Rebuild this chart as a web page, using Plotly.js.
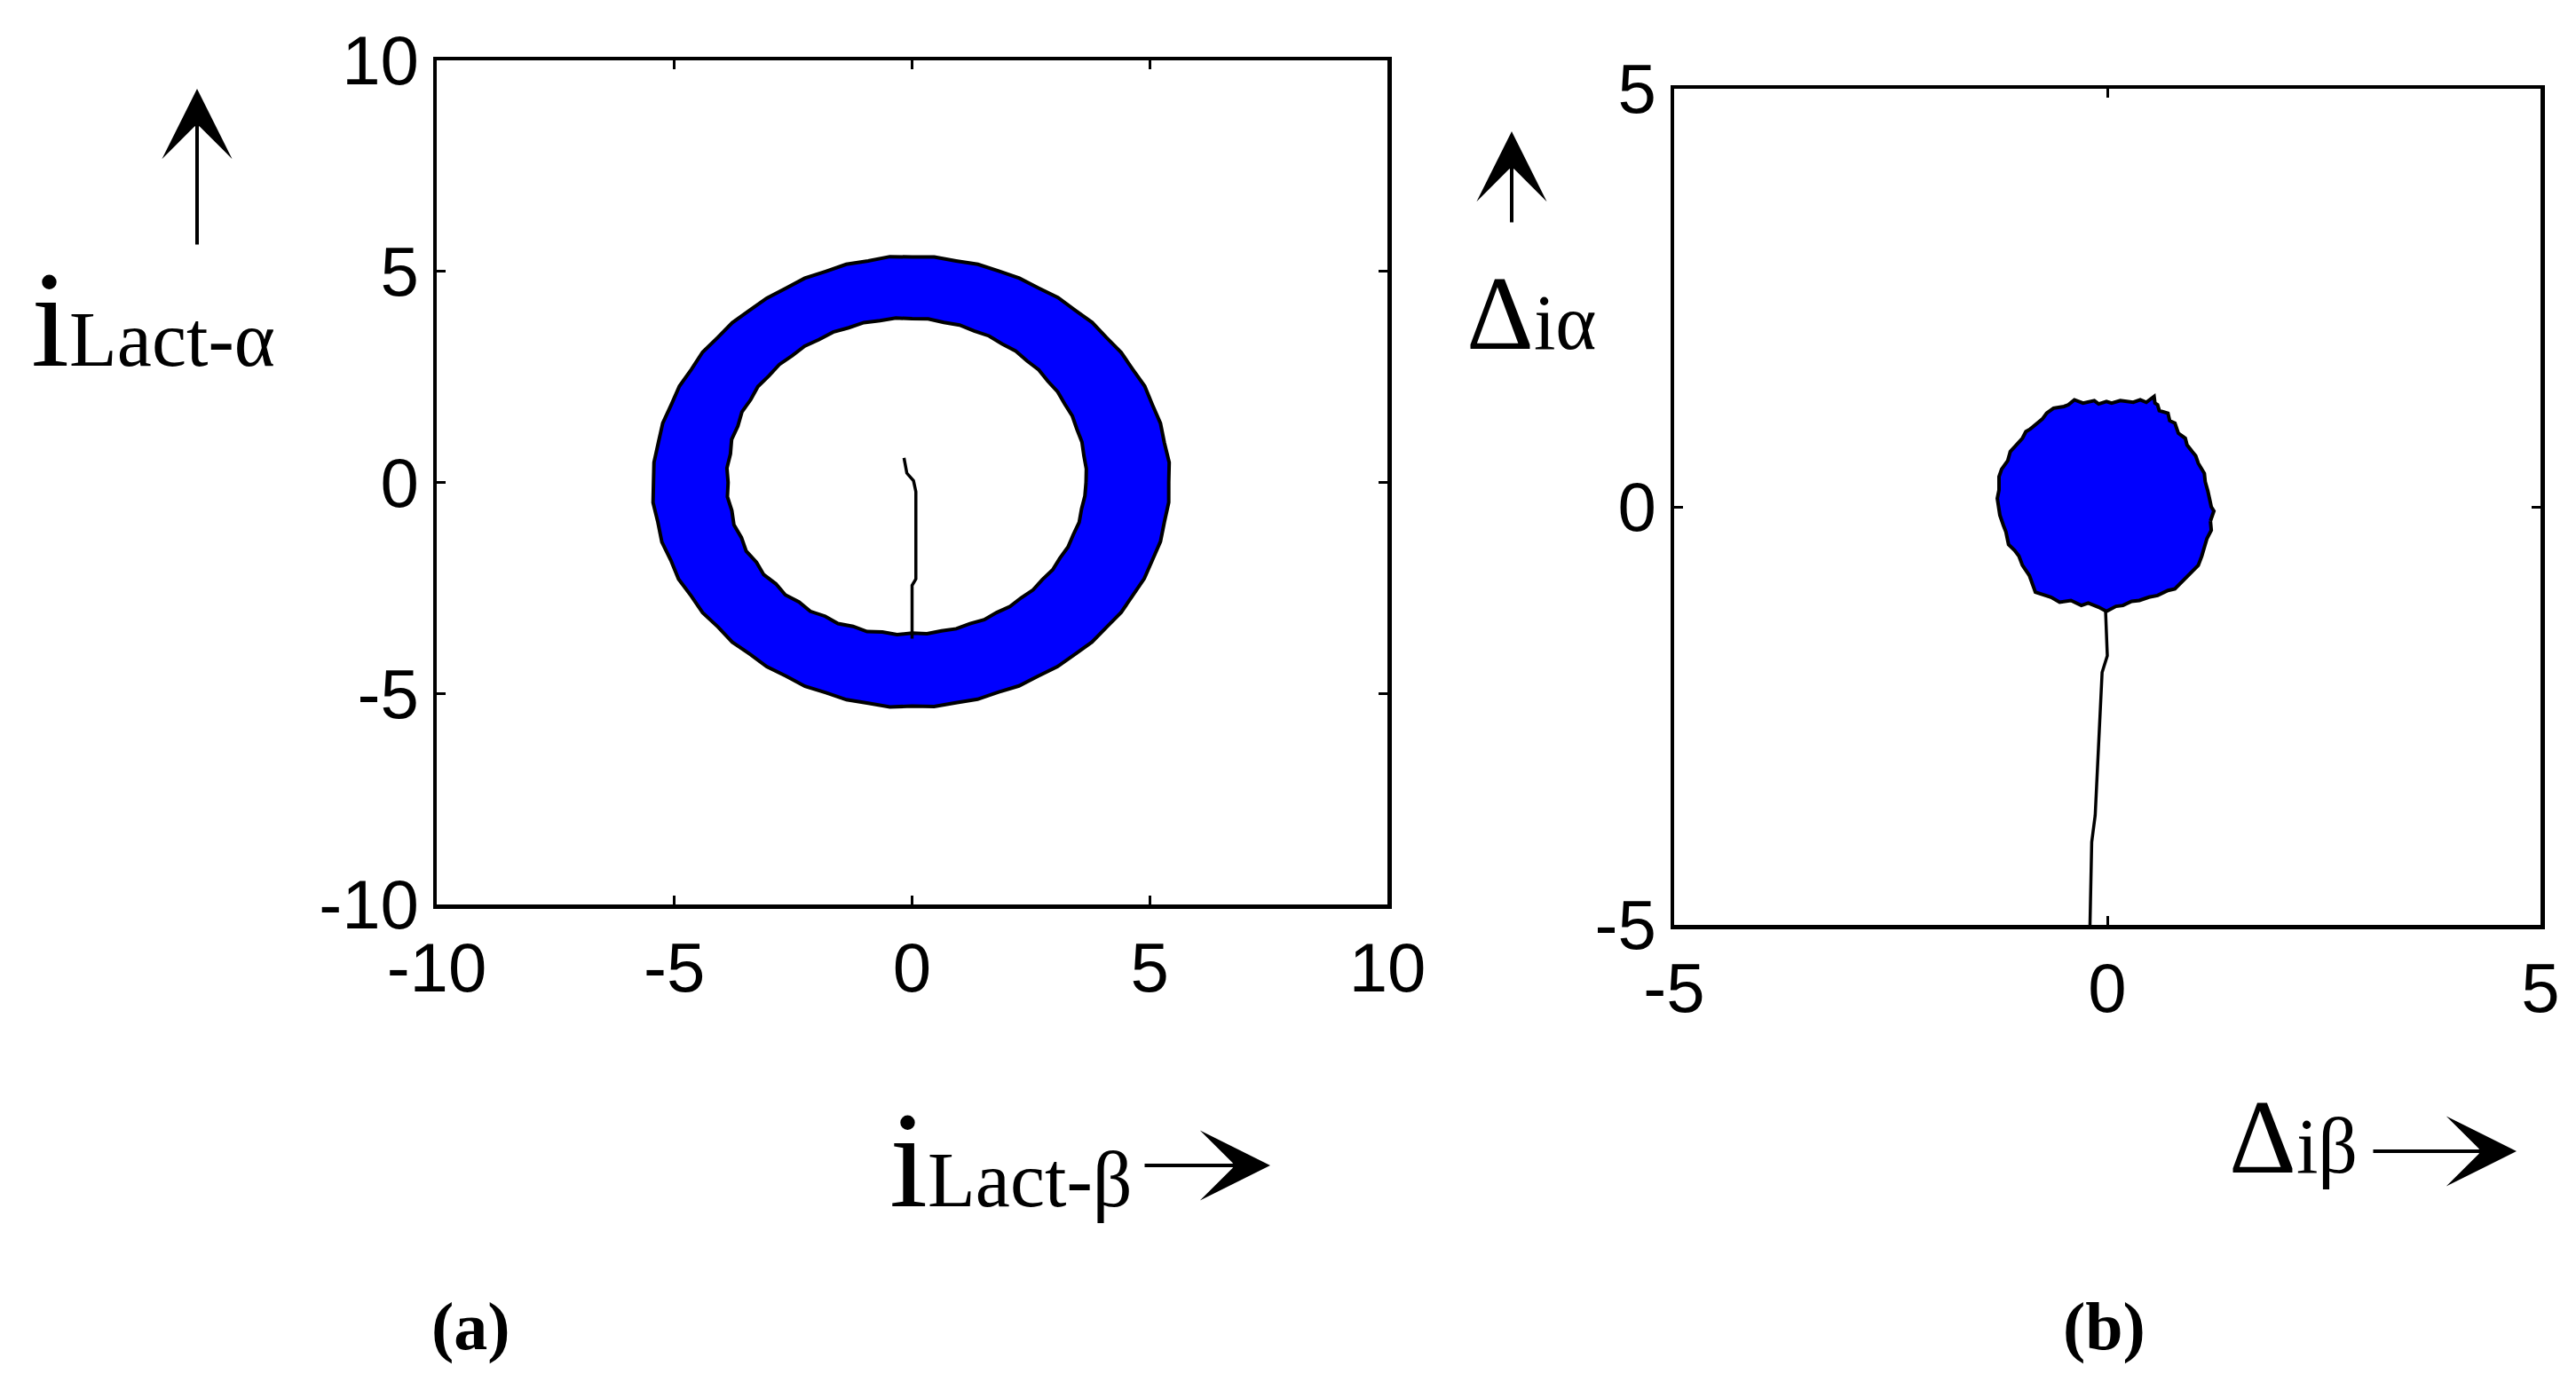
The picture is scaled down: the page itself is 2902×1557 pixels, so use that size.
<!DOCTYPE html>
<html>
<head>
<meta charset="utf-8">
<script src="https://cdn.plot.ly/plotly-3.0.1.min.js"></script>
<style>html,body{margin:0;padding:0;background:#fff;}#chart{width:2902px;height:1557px;}</style>
</head>
<body>
<div id="chart"></div>
<script>
// ---------- data ----------
// (a) ring: boundary radii of the i_Lact trajectory band, by angle (degrees)
const ringAngles = [0,5,10,15,20,25,30,35,40,45,50,55,60,65,70,75,80,85,90,95,100,105,110,115,120,125,130,135,140,145,150,155,160,165,170,175,180,185,190,195,200,205,210,215,220,225,230,235,240,245,250,255,260,265,270,275,280,285,290,295,300,305,310,315,320,325,330,335,340,345,350,355];
const ringOuterR = [5.40,5.43,5.39,5.41,5.38,5.40,5.36,5.37,5.34,5.36,5.33,5.35,5.32,5.34,5.33,5.35,5.33,5.36,5.34,5.37,5.33,5.35,5.32,5.34,5.31,5.33,5.32,5.35,5.34,5.38,5.36,5.40,5.39,5.43,5.42,5.45,5.44,5.47,5.43,5.45,5.40,5.42,5.37,5.38,5.33,5.35,5.31,5.33,5.30,5.33,5.30,5.33,5.31,5.34,5.30,5.33,5.30,5.32,5.29,5.32,5.30,5.33,5.32,5.35,5.34,5.37,5.36,5.39,5.38,5.41,5.39,5.42];
const ringInnerR = [3.66,3.68,3.67,3.70,3.69,3.72,3.71,3.74,3.73,3.77,3.76,3.80,3.79,3.83,3.82,3.86,3.85,3.89,3.88,3.91,3.89,3.92,3.90,3.93,3.91,3.94,3.92,3.95,3.93,3.96,3.92,3.95,3.90,3.93,3.88,3.91,3.87,3.90,3.85,3.88,3.82,3.85,3.78,3.81,3.74,3.77,3.70,3.73,3.66,3.69,3.63,3.66,3.60,3.62,3.57,3.60,3.57,3.59,3.56,3.59,3.56,3.59,3.57,3.60,3.58,3.61,3.59,3.62,3.61,3.64,3.62,3.65];
// (a) start-up transient line
const transAx = [-0.17,-0.11,0.03,0.08,0.08,0.00,0.00];
const transAy = [0.58,0.22,0.04,-0.22,-2.29,-2.44,-3.70];
// (b) error disk boundary
const diskX = [1.19,1.23,1.20,1.18,1.16,1.13,1.12,1.05,1.02,0.98,0.92,0.90,0.82,0.78,0.72,0.70,0.60,0.58,0.55,0.54,0.45,0.38,0.30,0.15,0.05,-0.01,-0.10,-0.15,-0.28,-0.38,-0.45,-0.50,-0.62,-0.70,-0.75,-0.89,-0.94,-0.98,-1.07,-1.12,-1.15,-1.22,-1.25,-1.25,-1.27,-1.24,-1.20,-1.17,-1.14,-1.07,-1.02,-0.98,-0.90,-0.83,-0.65,-0.55,-0.42,-0.30,-0.22,-0.10,-0.01,0.10,0.18,0.28,0.37,0.48,0.58,0.70,0.78,0.90,0.95,1.05,1.09,1.12,1.15,1.20,1.19];
const diskY = [-0.17,-0.05,0.00,0.12,0.19,0.30,0.40,0.52,0.61,0.66,0.74,0.82,0.88,1.00,1.03,1.12,1.15,1.22,1.24,1.32,1.25,1.28,1.25,1.27,1.24,1.26,1.23,1.27,1.24,1.28,1.22,1.20,1.18,1.12,1.05,0.93,0.90,0.82,0.72,0.66,0.55,0.45,0.36,0.20,0.10,-0.10,-0.22,-0.30,-0.45,-0.52,-0.59,-0.70,-0.82,-1.02,-1.08,-1.14,-1.12,-1.18,-1.15,-1.20,-1.25,-1.19,-1.18,-1.13,-1.12,-1.08,-1.06,-1.00,-0.98,-0.86,-0.80,-0.70,-0.59,-0.50,-0.38,-0.28,-0.17];
// (b) transient line
const transBx = [-0.02,0.00,-0.06,-0.10,-0.14,-0.18,-0.20];
const transBy = [-1.25,-1.78,-1.98,-2.87,-3.69,-4.01,-5.00];
// ticks
const ticksA = [-10,-5,0,5,10];
const tickTextA = ['-10','-5','0','5','10'];
const ticksB = [-5,0,5];
const tickTextB = ['-5','0','5'];

// ---------- helpers ----------
const W = 2902, H = 1557;
const PX = v => v / W;
const PY = v => 1 - v / H;
const toXY = (ang, r) => ({
  x: ang.map((a, i) => r[i] * Math.cos(a * Math.PI / 180)).concat([r[0]]),
  y: ang.map((a, i) => r[i] * Math.sin(a * Math.PI / 180)).concat([0])
});
const outer = toXY(ringAngles, ringOuterR);
const inner = toXY(ringAngles, ringInnerR);

const traces = [
  {x: inner.x, y: inner.y, xaxis: 'x', yaxis: 'y', mode: 'lines', line: {color: '#000', width: 4}, hoverinfo: 'skip'},
  {x: outer.x, y: outer.y, xaxis: 'x', yaxis: 'y', mode: 'lines', fill: 'tonext', fillcolor: '#0000ff', line: {color: '#000', width: 4}, hoverinfo: 'skip'},
  {x: transAx, y: transAy, xaxis: 'x', yaxis: 'y', mode: 'lines', line: {color: '#000', width: 3.5}},
  {x: diskX, y: diskY, xaxis: 'x2', yaxis: 'y2', mode: 'lines', fill: 'toself', fillcolor: '#0000ff', line: {color: '#000', width: 4}},
  {x: transBx, y: transBy, xaxis: 'x2', yaxis: 'y2', mode: 'lines', line: {color: '#000', width: 3.5}}
];

const axBase = {
  showline: true, linecolor: '#000', linewidth: 4.5, mirror: 'allticks',
  ticks: 'inside', ticklen: 10, tickwidth: 3, tickcolor: '#000',
  showgrid: false, zeroline: false, fixedrange: true,
  tickfont: {family: 'Liberation Sans, Arial, sans-serif', size: 78, color: '#000'}
};

const serif = 'Liberation Serif, Times New Roman, serif';
const ann = [];
function label(text, x, yBottom, anchor) {
  ann.push({xref: 'paper', yref: 'paper', x: PX(x), y: PY(yBottom), xanchor: anchor || 'left', yanchor: 'bottom',
    text: text, showarrow: false, font: {family: serif, size: 88, color: '#000'}});
}
function arrow(tipX, tipY, tailX, tailY) {
  ann.push({xref: 'paper', yref: 'paper', x: PX(tipX), y: PY(tipY), ax: tailX - tipX, ay: tailY - tipY,
    text: '', showarrow: true, arrowhead: 3, arrowsize: 3.3, arrowwidth: 4, arrowcolor: '#000', standoff: 0, startstandoff: 0});
}
label('<span style="font-size:155px">i</span>Lact-α', 33, 448);
label('<span style="font-size:155px">i</span>Lact-β', 1000, 1395);
label('<span style="font-size:118px">Δ</span>iα', 1650, 421);
label('<span style="font-size:118px">Δ</span>iβ', 2509, 1349);
arrow(222, 100, 222, 277);
arrow(1431, 1313, 1288, 1313);
arrow(1703, 148, 1703, 252);
arrow(2835, 1297, 2672, 1297);
ann.push({xref: 'paper', yref: 'paper', x: PX(530), y: PY(1539), xanchor: 'center', yanchor: 'bottom', text: '<b>(a)</b>', showarrow: false, font: {family: serif, size: 76, color: '#000'}});
ann.push({xref: 'paper', yref: 'paper', x: PX(2370), y: PY(1539), xanchor: 'center', yanchor: 'bottom', text: '<b>(b)</b>', showarrow: false, font: {family: serif, size: 76, color: '#000'}});

const layout = {
  width: W, height: H, margin: {l: 0, r: 0, t: 0, b: 0},
  paper_bgcolor: '#fff', plot_bgcolor: '#fff', showlegend: false,
  xaxis: Object.assign({}, axBase, {domain: [PX(492), PX(1563)], range: [-10, 10], tickvals: ticksA, ticktext: tickTextA, anchor: 'y'}),
  yaxis: Object.assign({}, axBase, {domain: [PY(1019), PY(68)], range: [-10, 10], tickvals: ticksA, ticktext: tickTextA, anchor: 'x'}),
  xaxis2: Object.assign({}, axBase, {domain: [PX(1886), PX(2862)], range: [-5, 5], tickvals: ticksB, ticktext: tickTextB, anchor: 'y2'}),
  yaxis2: Object.assign({}, axBase, {domain: [PY(1042), PY(100)], range: [-5, 5], tickvals: ticksB, ticktext: tickTextB, anchor: 'x2'}),
  annotations: ann
};

Plotly.newPlot('chart', traces, layout, {displayModeBar: false, staticPlot: true});
</script>
</body>
</html>
